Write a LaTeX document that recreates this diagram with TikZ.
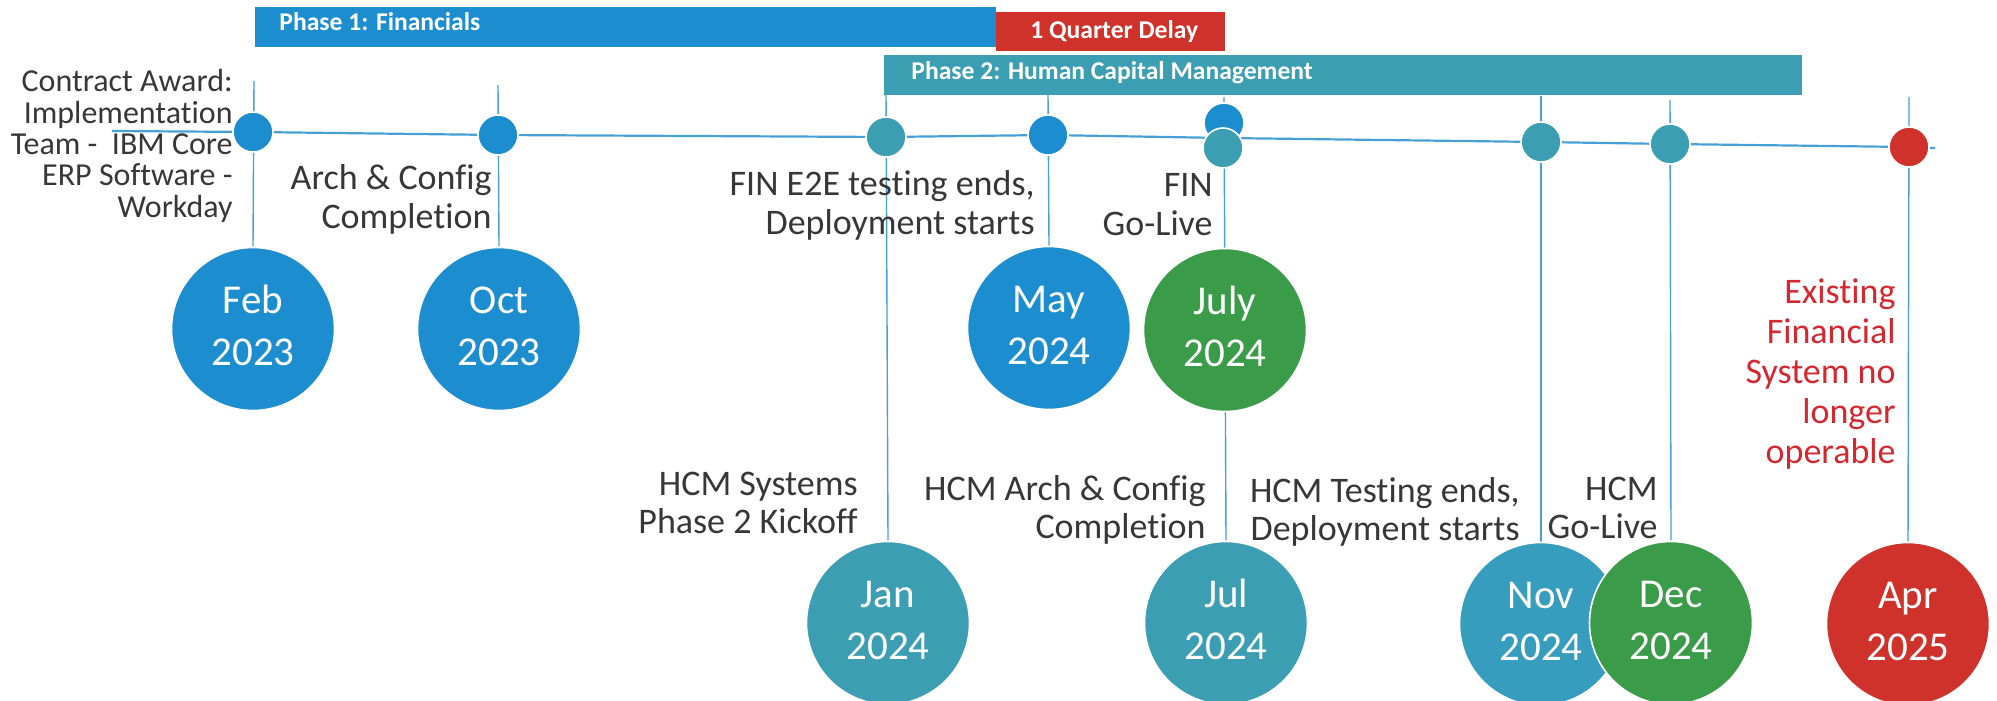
\documentclass[tikz,border=0pt]{standalone}
\usepackage{fontspec}
\setmainfont{Carlito}[Ligatures=NoCommon]
\pgfdeclarelayer{bg}
\pgfsetlayers{bg,main}
\definecolor{blueC}{RGB}{28,142,208}
\definecolor{tealC}{RGB}{60,158,178}
\definecolor{tealN}{RGB}{54,157,190}
\definecolor{greenC}{RGB}{58,156,72}
\definecolor{redC}{RGB}{206,50,42}
\definecolor{redT}{RGB}{212,40,48}
\definecolor{lineC}{RGB}{70,160,215}
\definecolor{txtC}{RGB}{55,55,55}
\newcommand{\lbl}[1]{\begin{tabular}[t]{@{}r@{}}#1\end{tabular}}
\newcommand{\dlbl}[1]{\begin{tabular}[t]{@{}c@{}}#1\end{tabular}}
\begin{document}
\begin{tikzpicture}[x=0.5pt,y=-0.5pt,
  vline/.style={draw=lineC, line width=0.7pt},
  tline/.style={draw=lineC, line width=1.1pt},
  dot/.style={circle, minimum size=20pt, inner sep=0pt, draw=white, line width=0.8pt},
  big/.style={circle, minimum size=81.5pt, inner sep=0pt, draw=white, line width=0.8pt, text=white, font=\fontsize{20.5}{26}\selectfont},
  bartext/.style={text=white, font=\bfseries\fontsize{12.8}{14}\selectfont, anchor=base west, inner sep=0pt},
  lab/.style={text=txtC, font=\fontsize{18}{20}\selectfont, anchor=base east, inner sep=0pt},
  labb/.style={lab, font=\fontsize{18}{19}\selectfont},
]
\useasboundingbox (0,0) rectangle (1997,701);
% phase bars
\fill[blueC] (255,7) rectangle (996,47);
\fill[redC] (996,12) rectangle (1225,51);
\fill[tealC] (884,55) rectangle (1802,95);
\node[bartext] (p1) at (279,31) {Phase 1: Financials};
\node[bartext] (dl) at (1030,39) {1 Quarter Delay};
\node[bartext] (p2) at (911,80) {Phase 2: Human Capital Management};
% top ends of the vertical lines
\coordinate (t1) at (254,81);
\coordinate (t2) at (498,85);
\coordinate (t3) at (886,93);
\coordinate (t4) at (1048,95);
\coordinate (t5) at (1224,97);
\coordinate (t6) at (1541,96);
\coordinate (t7) at (1670,100);
\coordinate (t8) at (1909,97);
\coordinate (tl0) at (112,131);
\coordinate (tlj) at (1224,138);
\coordinate (tlend) at (1935,148);
% small dots
\node[dot, fill=blueC] (d1) at (253,132) {};
\node[dot, fill=blueC] (d2) at (498,135) {};
\node[dot, fill=tealC] (d3) at (886,137) {};
\node[dot, fill=blueC] (d4) at (1048,135) {};
\node[dot, fill=blueC] (d5) at (1224,123) {};
\node[dot, fill=tealC] (d5b) at (1223,148) {};
\node[dot, fill=tealC] (d6) at (1541,142) {};
\node[dot, fill=tealC] (d7) at (1670,144) {};
\node[dot, fill=redC] (d8) at (1909,147) {};
% big date circles
\node[big, fill=blueC] (b1) at (253,329) {\dlbl{Feb\\2023}};
\node[big, fill=blueC] (b2) at (499,329) {\dlbl{Oct\\2023}};
\node[big, fill=blueC] (b4) at (1049,328) {\dlbl{May\\2024}};
\node[big, fill=tealC] (b3) at (888,623) {\dlbl{Jan\\2024}};
\node[big, fill=tealC] (b5b) at (1226,623) {\dlbl{Jul\\2024}};
\node[big, fill=greenC] (b5) at (1225,330) {\dlbl{July\\2024}};
\node[big, fill=tealN] (b6) at (1541,624) {\dlbl{Nov\\2024}};
\node[big, fill=greenC] (b7) at (1671,623) {\dlbl{Dec\\2024}};
\node[big, fill=redC] (b8) at (1908,624) {\dlbl{Apr\\2025}};
% connectors behind
\begin{pgfonlayer}{bg}
\draw[tline] (tl0) -- (d1.center) -- (d2.center) -- (d3.center) -- (d4.center) -- (tlj) -- (d6.center) -- (d7.center) -- (d8.center) -- (tlend);
\draw[vline] (t1) -- (b1.north);
\draw[vline] (t2) -- (b2.north);
\draw[vline] (t3) -- (b3.north);
\draw[vline] (t4) -- (b4.north);
\draw[vline] (t5) -- (b5b.north);
\draw[vline] (t6) -- (b6.north);
\draw[vline] (t7) -- (b7.north);
\draw[vline] (t8) -- (b8.north);
\end{pgfonlayer}
% labels
\node[lab, font=\fontsize{16}{15.5}\selectfont] (la1) at (233,92) {\lbl{Contract Award:\\Implementation\\Team -~ IBM Core\\ERP Software -\\Workday}};
\node[lab] (la2) at (492,189) {\lbl{Arch \& Config\\Completion}};
\node[lab] (la4) at (1035,195) {\lbl{FIN E2E testing ends,\\Deployment starts}};
\node[lab] (la5) at (1213,196) {\lbl{FIN\\Go-Live}};
\node[labb] (la3) at (858,495) {\lbl{HCM Systems\\Phase 2 Kickoff}};
\node[labb] (la5b) at (1206,500) {\lbl{HCM Arch \& Config\\Completion}};
\node[labb] (la6) at (1520,502) {\lbl{HCM Testing ends,\\Deployment starts}};
\node[labb] (la7) at (1658,500) {\lbl{HCM\\Go-Live}};
\node[lab, text=redT] (la8) at (1896,303) {\lbl{Existing\\Financial\\System no\\longer\\operable}};
\end{tikzpicture}
\end{document}
